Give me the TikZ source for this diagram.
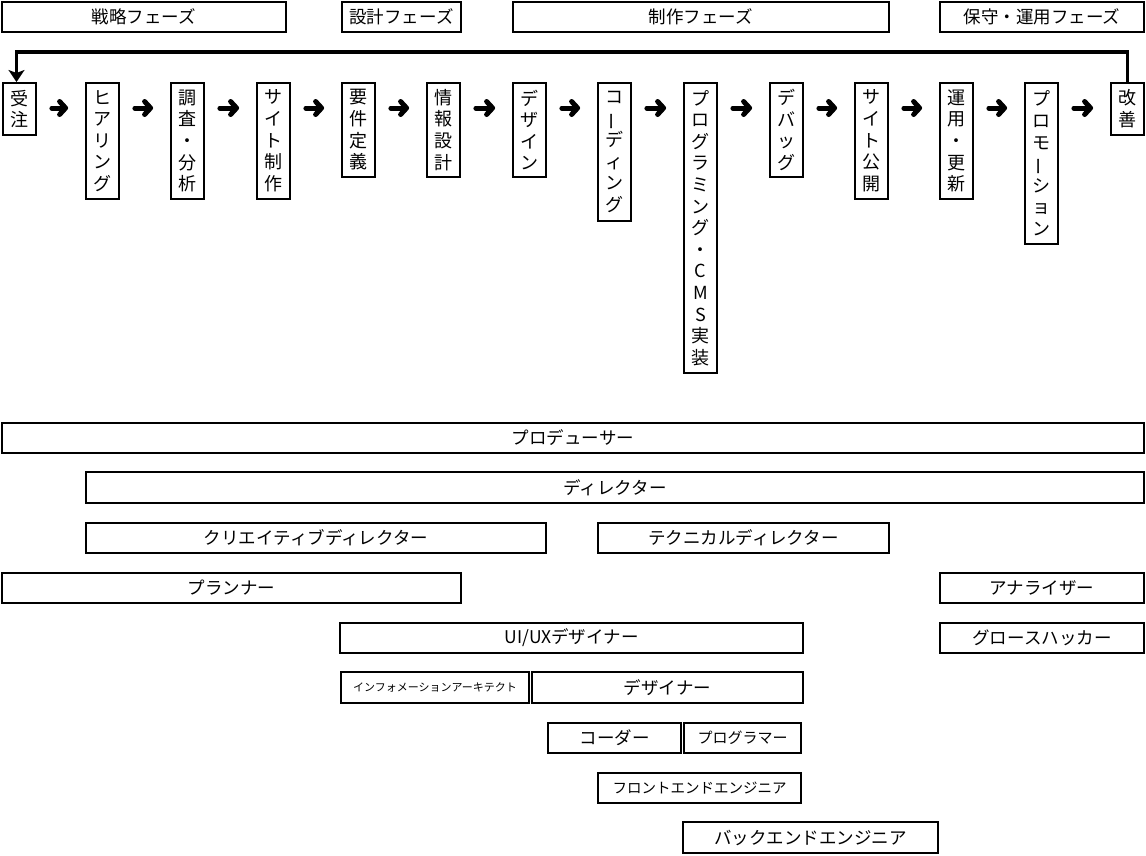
\documentclass[tikz,border=0pt]{standalone}
\usepackage{fontspec}
\setmainfont{Noto Sans CJK JP}
\usepackage{graphicx}
\usetikzlibrary{arrows.meta}
\newcommand{\vchoon}{\rotatebox[origin=c]{90}{ー}}
\begin{document}
\begin{tikzpicture}[x=1pt,y=-1pt,
  box/.style={draw, line width=1.8pt, inner sep=0pt, font=\fontsize{17.5}{20}\selectfont},
  vbox/.style={box, anchor=north, minimum width=33pt, align=center, font=\fontsize{18}{21.6}\selectfont},
  arr/.style={line width=5pt, line cap=round, -{Straight Barb[length=6pt,width=13pt,round]}, shorten <=15pt, shorten >=17pt},
  looparr/.style={line width=3.2pt, -{Stealth[length=12pt,width=16pt,inset=3pt]}}
]
\useasboundingbox (0,0) rectangle (1146,855);

% phases
\node[box, minimum width=284pt, minimum height=30pt] (p1) at (144,17) {戦略フェーズ};
\node[box, minimum width=119pt, minimum height=30pt] (p2) at (401.5,17) {設計フェーズ};
\node[box, minimum width=376pt, minimum height=30pt] (p3) at (701,17) {制作フェーズ};
\node[box, minimum width=204pt, minimum height=30pt] (p4) at (1042,17) {保守・運用フェーズ};

% process steps
\node[vbox, minimum height=52pt]  (s1)  at (19.5,82)   {受\\注};
\node[vbox, minimum height=116pt] (s2)  at (102.5,82)  {ヒ\\ア\\リ\\ン\\グ};
\node[vbox, minimum height=116pt] (s3)  at (187.5,82)  {調\\査\\・\\分\\析};
\node[vbox, minimum height=116pt] (s4)  at (273.5,82)  {サ\\イ\\ト\\制\\作};
\node[vbox, minimum height=94pt]  (s5)  at (358.5,82)  {要\\件\\定\\義};
\node[vbox, minimum height=94pt]  (s6)  at (443.5,82)  {情\\報\\設\\計};
\node[vbox, minimum height=94pt]  (s7)  at (529.5,82)  {デ\\ザ\\イ\\ン};
\node[vbox, minimum height=138pt] (s8)  at (614.5,82)  {コ\\\vchoon\\デ\\ィ\\ン\\グ};
\node[vbox, minimum height=290pt] (s9)  at (700.5,82)  {プ\\ロ\\グ\\ラ\\ミ\\ン\\グ\\・\\C\\M\\S\\実\\装};
\node[vbox, minimum height=94pt]  (s10) at (786.5,82)  {デ\\バ\\ッ\\グ};
\node[vbox, minimum height=116pt] (s11) at (871.5,82)  {サ\\イ\\ト\\公\\開};
\node[vbox, minimum height=116pt] (s12) at (956.5,82)  {運\\用\\・\\更\\新};
\node[vbox, minimum height=161pt] (s13) at (1041.5,82) {プ\\ロ\\モ\\\vchoon\\シ\\ョ\\ン};
\node[vbox, minimum height=52pt]  (s14) at (1127.5,82) {改\\善};

% arrows between steps
\foreach \a/\b in {s1/s2,s2/s3,s3/s4,s4/s5,s5/s6,s6/s7,s7/s8,s8/s9,s9/s10,s10/s11,s11/s12,s12/s13,s13/s14}
  \draw[arr] (\a.east |- 0,108) -- (\b.west |- 0,108);

% loop back
\coordinate (loopL) at (16.5,52);
\draw[looparr] (s14.north) |- (loopL) -- (loopL |- s1.north);

% roles
\node[box, minimum width=1142pt, minimum height=30pt] (producer) at (573,438) {プロデューサー};
\node[box, minimum width=1058pt, minimum height=31pt] (director) at (615,487.5) {ディレクター};
\node[box, minimum width=460pt, minimum height=30pt] (cdir) at (316,538) {クリエイティブディレクター};
\node[box, minimum width=291pt, minimum height=30pt] (tdir) at (743.5,538) {テクニカルディレクター};
\node[box, minimum width=459pt, minimum height=30pt] (planner) at (231.5,588) {プランナー};
\node[box, minimum width=204pt, minimum height=30pt] (analyzer) at (1042,588) {アナライザー};
\node[box, minimum width=463pt, minimum height=30pt] (uiux) at (571.5,638) {UI/UXデザイナー};
\node[box, minimum width=204pt, minimum height=30pt] (growth) at (1042,638) {グロースハッカー};
\node[box, minimum width=188pt, minimum height=31pt, font=\fontsize{11}{13}\selectfont] (ia) at (435,687.5) {インフォメーションアーキテクト};
\node[box, minimum width=271pt, minimum height=31pt] (designer) at (667.5,687.5) {デザイナー};
\node[box, minimum width=133pt, minimum height=30pt] (coder) at (614.5,738) {コーダー};
\node[box, minimum width=117pt, minimum height=30pt, font=\fontsize{15}{18}\selectfont] (programmer) at (742.5,738) {プログラマー};
\node[box, minimum width=203pt, minimum height=30pt, font=\fontsize{14.5}{17}\selectfont] (frontend) at (699.5,788) {フロントエンドエンジニア};
\node[box, minimum width=255pt, minimum height=31pt] (backend) at (810.5,837.5) {バックエンドエンジニア};
\end{tikzpicture}
\end{document}
